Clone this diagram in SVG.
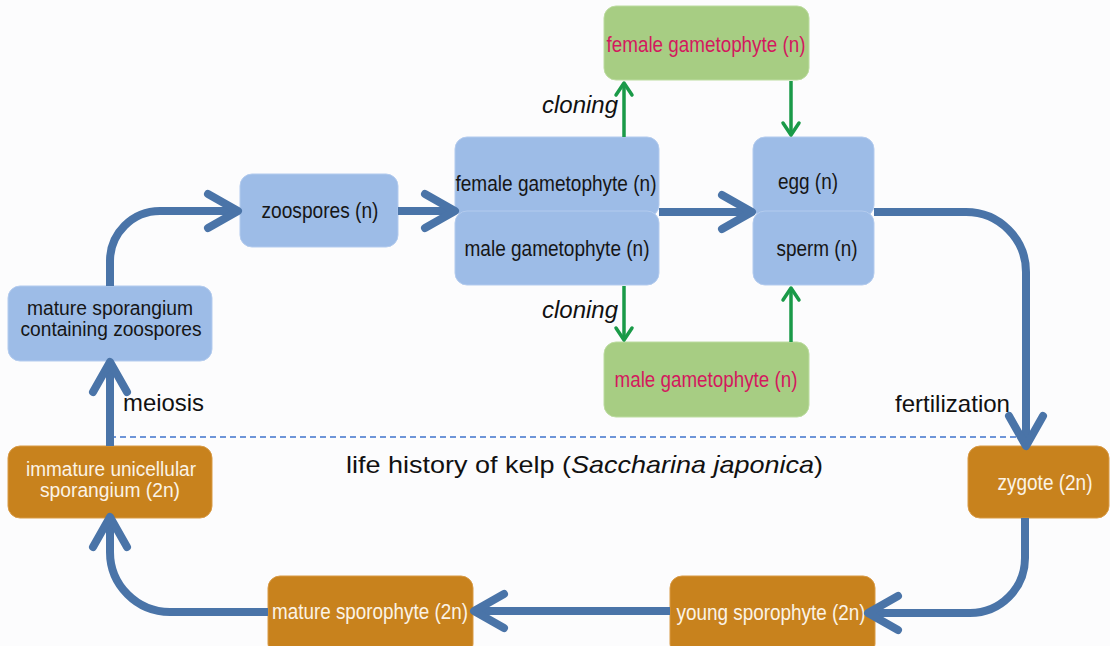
<svg xmlns="http://www.w3.org/2000/svg" width="1110" height="646" viewBox="0 0 1110 646">
<defs>
<marker id="chev" markerUnits="userSpaceOnUse" markerWidth="44" markerHeight="44" viewBox="-38 -22 44 44" refX="0" refY="0" orient="auto">
<path d="M-30,-17 L0,0 L-30,17" fill="none" stroke="#4a74a8" stroke-width="8" stroke-linecap="round" stroke-linejoin="round"/>
</marker>
<marker id="gchev" markerUnits="userSpaceOnUse" markerWidth="24" markerHeight="24" viewBox="-16 -12 20 24" refX="0" refY="0" orient="auto">
<path d="M-12,-8 L0,0 L-12,8" fill="none" stroke="#1a9a48" stroke-width="3.5" stroke-linecap="round" stroke-linejoin="round"/>
</marker>
</defs>
<style>
.blue{fill:#9dbce7;stroke:#b3cbee;stroke-width:1}
.green{fill:#a7cd83;stroke:#bcdca0;stroke-width:1}
.orange{fill:#c8821d;stroke:#d99a45;stroke-width:1}
.t{font-family:"Liberation Sans",Arial,sans-serif;font-size:21.5px;fill:#161616;text-anchor:middle}
.t2{font-size:19.5px}
.w{fill:#fbf3e6}
.p{fill:#d3195e}
.lbl{font-family:"Liberation Sans",Arial,sans-serif;font-size:24px;fill:#111}
.conn{fill:none;stroke:#4a74a8;stroke-width:8}
.g{fill:none;stroke:#1a9a48;stroke-width:3.5}
</style>
<rect width="1110" height="646" fill="#fcfcfd"/>
<path d="M110,437 L1024,437" stroke="#6e95d8" stroke-width="2" stroke-dasharray="6,4" fill="none"/>
<g id="mature-sporangium"><rect class="blue" x="8" y="286" width="204" height="75" rx="12"/>
<text class="t t2" x="110" y="315" textLength="166" lengthAdjust="spacingAndGlyphs">mature sporangium</text>
<text class="t t2" x="111" y="336" textLength="181" lengthAdjust="spacingAndGlyphs">containing zoospores</text></g>
<g id="zoospores"><rect class="blue" x="240" y="174" width="158" height="73" rx="12"/>
<text class="t" x="320" y="218" textLength="117" lengthAdjust="spacingAndGlyphs">zoospores (n)</text></g>
<g id="female-gametophyte"><rect class="blue" x="455" y="137" width="204" height="80" rx="12"/>
<text class="t" x="556" y="191" textLength="201" lengthAdjust="spacingAndGlyphs">female gametophyte (n)</text></g>
<g id="male-gametophyte"><rect class="blue" x="455" y="211" width="204" height="74" rx="12"/>
<text class="t" x="557" y="256" textLength="185" lengthAdjust="spacingAndGlyphs">male gametophyte (n)</text></g>
<g id="egg"><rect class="blue" x="753" y="137" width="121" height="80" rx="12"/>
<text class="t" x="808" y="189" textLength="60" lengthAdjust="spacingAndGlyphs">egg (n)</text></g>
<g id="sperm"><rect class="blue" x="753" y="211" width="121" height="74" rx="12"/>
<text class="t" x="817" y="256" textLength="81" lengthAdjust="spacingAndGlyphs">sperm (n)</text></g>
<g id="female-clone"><rect class="green" x="604" y="6" width="205" height="74" rx="12"/>
<text class="t p" x="706" y="52" textLength="199" lengthAdjust="spacingAndGlyphs">female gametophyte (n)</text></g>
<g id="male-clone"><rect class="green" x="604" y="342" width="205" height="75" rx="12"/>
<text class="t p" x="706" y="387" textLength="183" lengthAdjust="spacingAndGlyphs">male gametophyte (n)</text></g>
<g id="immature-sporangium"><rect class="orange" x="8" y="446" width="204" height="72" rx="12"/>
<text class="t t2 w" x="111" y="476" textLength="170" lengthAdjust="spacingAndGlyphs">immature unicellular</text>
<text class="t t2 w" x="110" y="497" textLength="140" lengthAdjust="spacingAndGlyphs">sporangium (2n)</text></g>
<g id="zygote"><rect class="orange" x="968" y="446" width="141" height="72" rx="12"/>
<text class="t w" x="1045" y="490" textLength="95" lengthAdjust="spacingAndGlyphs">zygote (2n)</text></g>
<g id="young-sporophyte"><rect class="orange" x="670" y="576" width="205" height="80" rx="12"/>
<text class="t w" x="771" y="620" textLength="189" lengthAdjust="spacingAndGlyphs">young sporophyte (2n)</text></g>
<g id="mature-sporophyte"><rect class="orange" x="268" y="576" width="205" height="80" rx="12"/>
<text class="t w" x="370" y="619" textLength="196" lengthAdjust="spacingAndGlyphs">mature sporophyte (2n)</text></g>
<g id="connectors">
<path class="conn" d="M110,286 L110,261 A50,50 0 0 1 160,211 L238,211" marker-end="url(#chev)"/>
<path class="conn" d="M398,211 L455,211" marker-end="url(#chev)"/>
<path class="conn" d="M659,212 L752,212" marker-end="url(#chev)"/>
<path class="conn" d="M874,212 L966,212 A60,60 0 0 1 1026,272 L1026,446" marker-end="url(#chev)"/>
<path class="conn" d="M1025,518 L1025,558 A55,55 0 0 1 970,613 L868,613" marker-end="url(#chev)"/>
<path class="conn" d="M670,611 L474,611" marker-end="url(#chev)"/>
<path class="conn" d="M268,612 L170,612 A60,60 0 0 1 110,552 L110,517" marker-end="url(#chev)"/>
<path class="conn" d="M110,446 L110,362" marker-end="url(#chev)"/>
<path class="g" d="M624,137 L624,83" marker-end="url(#gchev)"/>
<path class="g" d="M791,81 L791,135" marker-end="url(#gchev)"/>
<path class="g" d="M624,286 L624,340" marker-end="url(#gchev)"/>
<path class="g" d="M791,342 L791,288" marker-end="url(#gchev)"/>
</g>
<text class="lbl" x="580" y="113" text-anchor="middle" font-style="italic" textLength="76" lengthAdjust="spacingAndGlyphs">cloning</text>
<text class="lbl" x="580" y="318" text-anchor="middle" font-style="italic" textLength="76" lengthAdjust="spacingAndGlyphs">cloning</text>
<text class="lbl" x="123" y="411" textLength="81" lengthAdjust="spacingAndGlyphs">meiosis</text>
<text class="lbl" x="895" y="412" textLength="115" lengthAdjust="spacingAndGlyphs">fertilization</text>
<text class="lbl" x="346" y="473" font-size="25.5" textLength="477" lengthAdjust="spacingAndGlyphs">life history of kelp (<tspan font-style="italic">Saccharina japonica</tspan>)</text>
</svg>
